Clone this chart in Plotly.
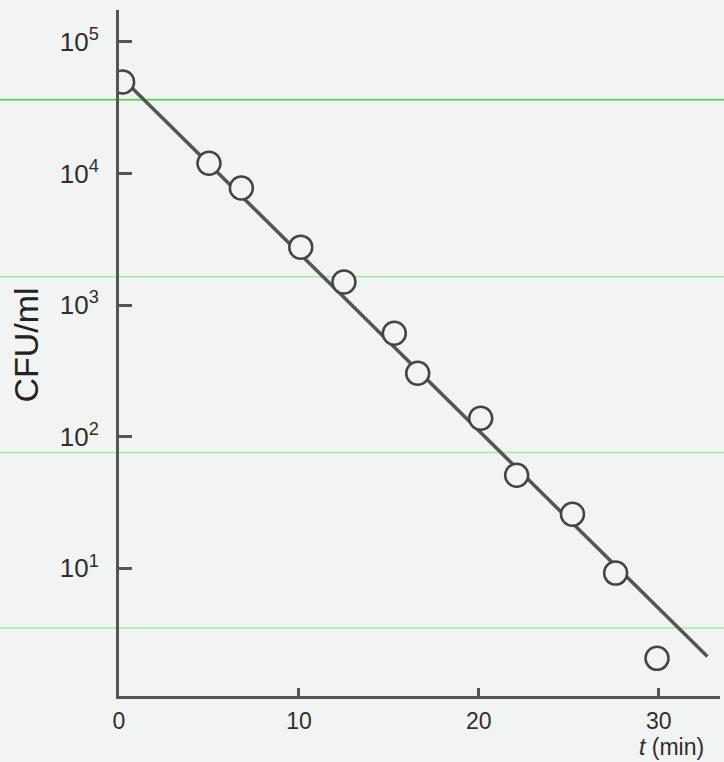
import plotly.graph_objects as go

# Survival data (time in min, CFU/ml)
time_min = [0.2, 5.0, 6.8, 10.1, 12.5, 15.3, 16.6, 20.1, 22.1, 25.2, 27.6, 29.9]
cfu_ml = [49700, 12000, 7760, 2760, 1500, 612, 304, 138, 51, 25.8, 9.2, 2.07]

# Fitted regression line endpoints
fit_t = [0, 32.7]
fit_cfu = [56000, 2.14]

# Axis ticks
x_ticks = [0, 10, 20, 30]
x_ticktext = ["0", "10", "20", "30"]
y_ticks = [10, 100, 1000, 10000, 100000]
y_ticktext = ["10<sup>1</sup>", "10<sup>2</sup>", "10<sup>3</sup>", "10<sup>4</sup>", "10<sup>5</sup>"]

# scan artefact lines (paper y positions of faint green streaks)
streak_y = [0.869, 0.611, 0.355, 0.099]
streak_col = ["#35e035", "#9ded9d", "#9ded9d", "#9ded9d"]

BG = "#f2f4f4"
INK = "#555555"
TXT = "#2e2e2e"
FONT = "Liberation Sans, Arial"

fig = go.Figure()
fig.add_trace(go.Scatter(x=fit_t, y=fit_cfu, mode="lines",
                         line=dict(color=INK, width=3.5), showlegend=False,
                         hoverinfo="skip"))
fig.add_trace(go.Scatter(x=time_min, y=cfu_ml, mode="markers",
                         marker=dict(symbol="circle", size=23, color=BG,
                                     line=dict(color="#444444", width=2.5)),
                         showlegend=False))

for yy, cc in zip(streak_y, streak_col):
    fig.add_shape(type="line", xref="paper", yref="paper", x0=-0.2, x1=1.01,
                  y0=yy, y1=yy, line=dict(color=cc, width=1.5), layer="below")

fig.update_xaxes(range=[0, 33.4], showgrid=False, zeroline=False,
                 showline=True, linecolor=INK, linewidth=3,
                 ticks="inside", ticklen=8, tickwidth=3, tickcolor=INK,
                 tickvals=x_ticks, ticktext=x_ticktext,
                 tickfont=dict(family=FONT, size=23, color=TXT),
                 ticklabelstandoff=2)
fig.update_yaxes(type="log", range=[0.03, 5.243], showgrid=False, zeroline=False,
                 showline=True, linecolor=INK, linewidth=3,
                 ticks="inside", ticklen=13, tickwidth=3, tickcolor=INK,
                 tickvals=y_ticks, ticktext=y_ticktext,
                 tickfont=dict(family=FONT, size=26, color=TXT),
                 ticklabelstandoff=12)

fig.add_annotation(text="CFU/ml", xref="paper", yref="paper", x=-0.155, y=0.512,
                   xanchor="center", yanchor="middle",
                   textangle=-90, showarrow=False,
                   font=dict(family=FONT, size=34, color="#222222"))
fig.add_annotation(text="<i>t</i> (min)", xref="paper", yref="paper", x=0.92, y=-0.075,
                   xanchor="center", yanchor="middle",
                   showarrow=False,
                   font=dict(family=FONT, size=23, color=TXT))

fig.update_layout(width=724, height=762, paper_bgcolor=BG, plot_bgcolor=BG,
                  margin=dict(l=119, r=4, t=10, b=66), showlegend=False)

fig.write_html("out.html", config={"displayModeBar": False},
               post_script="document.body.style.margin='0';document.body.style.background='#f2f4f4';")
